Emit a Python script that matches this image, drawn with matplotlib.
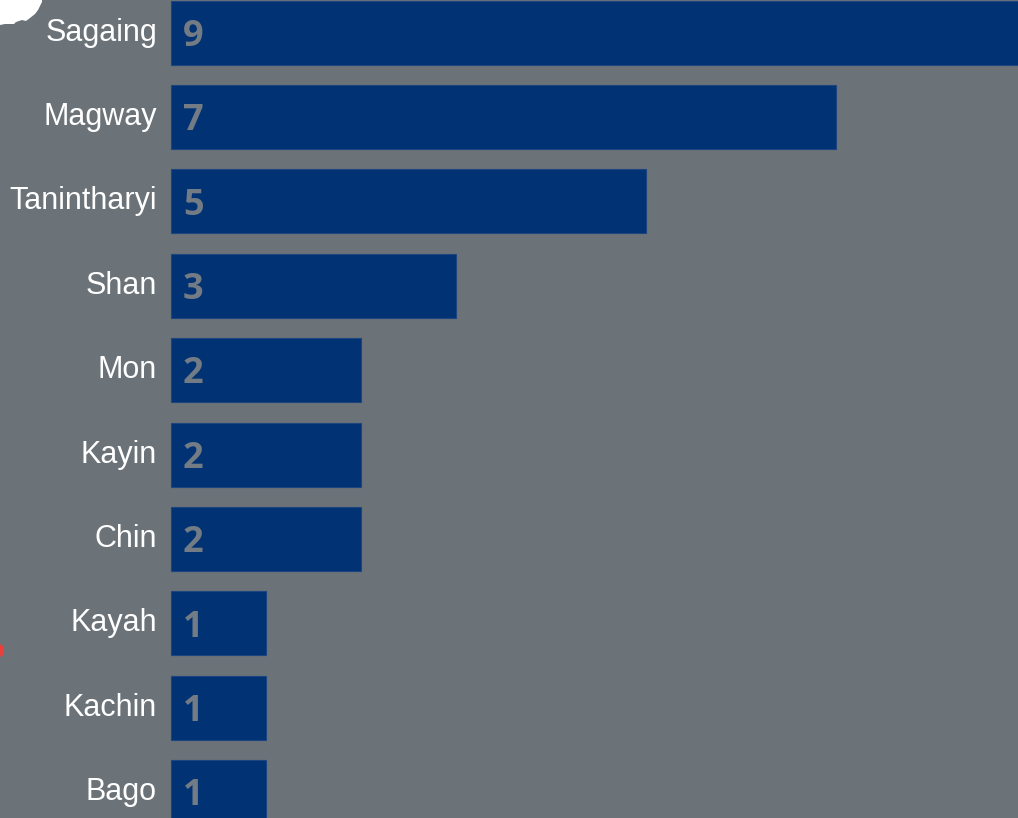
# Incidentes por región - barras horizontales
import matplotlib.pyplot as plt
from matplotlib.patches import Polygon

regiones = ['Sagaing', 'Magway', 'Tanintharyi', 'Shan', 'Mon', 'Kayin', 'Chin',
            'Kayah', 'Kachin', 'Bago']
valores = [9, 7, 5, 3, 2, 2, 2, 1, 1, 1]

fondo = '#6b7278'
azul = '#003274'
gris_num = '#737c84'

fig = plt.figure(figsize=(10.18, 8.18), dpi=100, facecolor=fondo)
ax = fig.add_axes([0, 0, 1, 1])
ax.set_facecolor(fondo)

# escala: 95 px por unidad, origen de las barras en x=171 px
ax.set_xlim(-171 / 95, (1018 - 171) / 95)
ax.set_ylim((818 - 32.6) / 84.4, -32.6 / 84.4)

pos = list(range(len(regiones)))
ax.barh(pos, valores, height=0.76, color=azul, edgecolor='#1d4580', linewidth=0.8)

for y, (r, v) in enumerate(zip(regiones, valores)):
    ax.text(-14 / 95, y, r, ha='right', va='center', color='white',
            fontsize=22, family=['Liberation Sans', 'DejaVu Sans'])
    ax.text(12 / 95, y + 0.05, str(v), ha='left', va='center', color=gris_num,
            fontsize=26, fontweight='bold', family=['Open Sans', 'DejaVu Sans'])

ax.axis('off')

# restos del mapa de fondo en el borde izquierdo
contorno = [(0, 0), (42, 0), (42, 2), (40, 6), (38, 10), (35, 14), (30, 18),
            (26, 21), (22, 20), (16, 22), (14, 24), (5, 24), (0, 25)]
fig.patches.append(Polygon([(x / 1018, 1 - y / 818) for x, y in contorno],
                           closed=True, facecolor='white', edgecolor='none',
                           transform=fig.transFigure, figure=fig))
fig.patches.append(Polygon([(0, 1 - 644 / 818), (3 / 1018, 1 - 646 / 818),
                            (3 / 1018, 1 - 655 / 818), (0, 1 - 657 / 818)],
                           closed=True, facecolor='#e8403c', edgecolor='none',
                           transform=fig.transFigure, figure=fig))

plt.savefig('out.png', dpi=100, facecolor=fondo)
